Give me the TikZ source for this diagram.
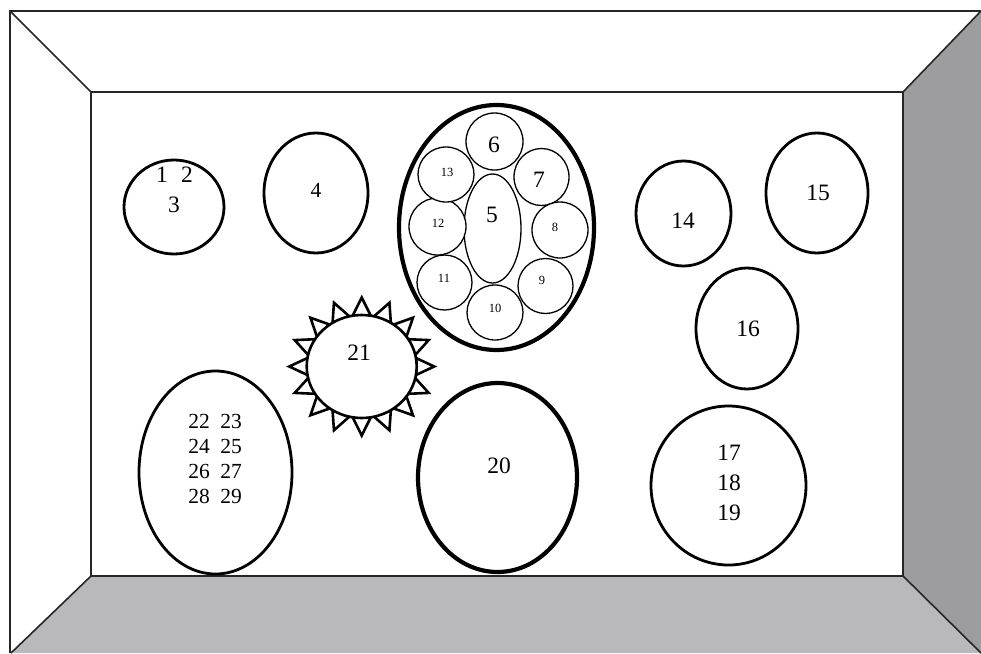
\documentclass[tikz,border=0pt]{standalone}
\usepackage{fontspec}
\setmainfont{Liberation Serif}
\usetikzlibrary{shapes.geometric,calc}
\definecolor{panelR}{HTML}{9D9D9F}
\definecolor{panelB}{HTML}{B9B9BB}
\tikzset{
  tray/.style={ellipse, draw=black, line width=2.8pt, inner sep=0pt, fill=white},
  heavy/.style={ellipse, draw=black, line width=4.2pt, inner sep=0pt, fill=white},
  slot/.style={ellipse, draw=black, line width=1.3pt, inner sep=0pt, fill=white},
  big/.style={font=\fontsize{23.5}{23.5}\selectfont, inner sep=0pt},
  mid/.style={font=\fontsize{21.5}{25}\selectfont, inner sep=0pt, align=center},
  small/.style={font=\fontsize{12.5}{12.5}\selectfont, inner sep=0pt},
  edge/.style={line width=1.6pt, draw=black!85, line join=miter},
  spike/.style={draw=black, line width=2.6pt, fill=white, line join=miter}
}
\begin{document}
\begin{tikzpicture}[x=1pt,y=-1pt]
\useasboundingbox (0,0) rectangle (981,653);
\fill[white] (0,0) rectangle (981,653);
% room corners
\coordinate (O1) at (10,11);
\coordinate (O2) at (981,11);
\coordinate (O3) at (981,653);
\coordinate (O4) at (11,653);
\coordinate (I1) at (91,92);
\coordinate (I2) at (903,92);
\coordinate (I3) at (903,576);
\coordinate (I4) at (91,576);
\fill[panelR] (I2) -- (O2) -- (O3) -- (I3) -- cycle;
\fill[panelB] (I4) -- (I3) -- (O3) -- (O4) -- cycle;
\draw[edge] (10,653) -- (O1) -- (O2);
\draw[edge] (O1) -- (I1);
\draw[edge] (O2) -- (I2);
\draw[edge] (I3) -- (O3);
\draw[edge] (I4) -- (O4);
\draw[edge] (I1) rectangle (I3);
% tables
\node[tray, minimum width=100, minimum height=94] (t123) at (174,207) {};
\node[big] at (162,175) {1};
\node[big] at (187,175) {2};
\node[big] at (174,205) {3};
\node[tray, minimum width=104, minimum height=120] (t4) at (316,193) {};
\node[mid] at (316,190) {4};
% central group
\node[heavy, minimum width=195, minimum height=245] (g) at (496.5,227.5) {};
\node[slot, minimum width=57, minimum height=109] (t5) at (492.5,228.5) {};
\node[big] at (492,215) {5};
\node[slot, minimum width=57, minimum height=57] (t6) at (494.5,141.5) {};
\node[big] at (494,145) {6};
\node[slot, minimum width=55, minimum height=57] (t7) at (541.5,177) {};
\node[big] at (539,180) {7};
\node[slot, minimum width=56, minimum height=56] (t8) at (560,230) {};
\node[small] at (555,227) {8};
\node[slot, minimum width=55, minimum height=55] (t9) at (545.5,286) {};
\node[small] at (542,280) {9};
\node[slot, minimum width=56, minimum height=55] (t10) at (495,312.5) {};
\node[small] at (495,308) {10};
\node[slot, minimum width=55, minimum height=55] (t11) at (444.5,282.5) {};
\node[small] at (444,278) {11};
\node[slot, minimum width=57, minimum height=57] (t12) at (437.5,226.5) {};
\node[small] at (438,223) {12};
\node[slot, minimum width=56, minimum height=55] (t13) at (446,174.5) {};
\node[small] at (447,172) {13};
% right side
\node[tray, minimum width=95, minimum height=105] (t14) at (683.5,213.5) {};
\node[big] at (683,221) {14};
\node[tray, minimum width=102, minimum height=120] (t15) at (817,193) {};
\node[big] at (818,193) {15};
\node[tray, minimum width=102, minimum height=121] (t16) at (747,328.5) {};
\node[big] at (748,329) {16};
\node[tray, minimum width=155, minimum height=159] (t17) at (728.5,485.5) {};
\node[big] at (729,453) {17};
\node[big] at (729,483) {18};
\node[big] at (729,513) {19};
% bottom middle
\node[heavy, minimum width=159, minimum height=189] (t20) at (497.5,477.5) {};
\node[big] at (499,466) {20};
% sun table
\coordinate (s) at (361.7,366.5);
\foreach \a in {0,22.5,...,337.5}{
  \draw[spike] ($(s)+(\a-9.5:55 and 51.5)$) -- ($(s)+(\a:72.5 and 69)$) -- ($(s)+(\a+9.5:55 and 51.5)$) -- cycle;
}
\node[tray, line width=2.6pt, minimum width=110, minimum height=103] (t21) at (s) {};
\node[big] at (359,353) {21};
% left bottom
\node[tray, minimum width=153, minimum height=203] (t22) at (215.5,472.5) {};
\foreach \r/\p/\q in {0/22/23,1/24/25,2/26/27,3/28/29}{
  \node[mid] at (199,421+25.3*\r) {\p};
  \node[mid] at (231,421+25.3*\r) {\q};
}
\end{tikzpicture}
\end{document}
